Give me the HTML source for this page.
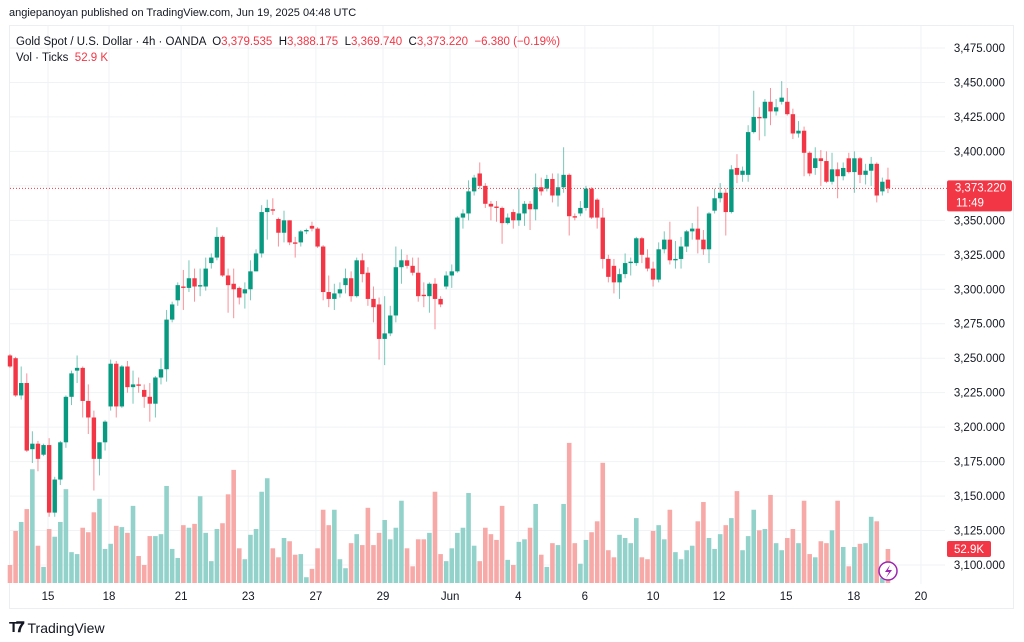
<!DOCTYPE html>
<html><head><meta charset="utf-8">
<style>
html,body{margin:0;padding:0;background:#fff;width:1024px;height:642px;overflow:hidden;font-family:"Liberation Sans",sans-serif;}
#hdr{position:absolute;left:9px;top:7px;font-size:11px;color:#131722;}
#frame{position:absolute;left:9px;top:25px;width:1005px;height:584px;border:1px solid #eceef2;box-sizing:border-box;}
#foot{position:absolute;left:9px;top:619px;font-size:14px;color:#131722;display:flex;align-items:center;gap:5px;}
svg{position:absolute;left:0;top:0;}
svg text{white-space:pre;}
</style></head><body>
<div id="hdr">angiepanoyan published on TradingView.com, Jun 19, 2025 04:48 UTC</div>
<div id="frame"></div>
<svg id="chart" width="1024" height="642"></svg>
<div id="foot"><span style="font-weight:900;font-size:15px;letter-spacing:-2px">T𝟕</span><span>TradingView</span></div>
<script>
const opens=[3252,3250,3223,3232,3184,3188,3180,3187,3138,3162,3189,3222,3241,3243,3219,3207,3177,3189,3215,3246,3215,3244,3229,3231,3227,3222,3217,3236,3242,3278,3292,3302,3301,3308,3302,3302,3319,3323,3338,3310,3304,3301,3297,3300,3313,3326,3356,3358,3351,3341,3350,3334,3334,3342,3346,3344,3331,3298,3293,3297,3303,3308,3295,3321,3312,3293,3289,3264,3268,3281,3316,3321,3317,3312,3296,3295,3304,3293,3302,3310,3313,3352,3355,3371,3384,3375,3362,3360,3359,3348,3356,3350,3355,3362,3358,3374,3373,3380,3368,3374,3383,3353,3355,3359,3373,3365,3352,3322,3317,3305,3311,3319,3319,3337,3323,3315,3307,3329,3336,3321,3322,3331,3342,3344,3336,3329,3357,3366,3370,3356,3388,3383,3383,3414,3425,3424,3436,3429,3436,3436,3427,3413,3415,3399,3388,3395,3393,3378,3387,3382,3395,3385,3395,3383,3386,3391,3371,3379.535];
const closes=[3244,3223,3232,3183,3188,3177,3187,3138,3162,3189,3222,3239,3243,3219,3207,3177,3189,3204,3246,3215,3244,3229,3231,3230,3222,3217,3236,3242,3278,3289,3303,3301,3308,3302,3303,3315,3323,3338,3310,3303,3300,3294,3300,3313,3326,3356,3359,3357,3341,3350,3334,3333,3342,3343,3344,3331,3298,3293,3297,3300,3308,3295,3321,3311,3293,3287,3264,3268,3281,3316,3321,3317,3312,3295,3295,3304,3293,3289,3310,3313,3352,3355,3371,3381,3375,3362,3360,3359,3348,3352,3350,3355,3362,3358,3374,3371,3380,3368,3374,3383,3353,3352,3359,3373,3352,3352,3322,3309,3305,3311,3319,3320,3337,3325,3315,3307,3329,3336,3321,3322,3331,3342,3344,3336,3329,3355,3366,3370,3356,3387,3383,3386,3414,3425,3424,3436,3429,3432,3439,3427,3413,3415,3399,3384,3395,3393,3378,3387,3382,3388,3385,3395,3383,3386,3391,3368,3378,3373.22];
const highs=[3253,3251,3244,3239,3197,3190,3188,3192,3164,3190,3223,3241,3252,3244,3231,3212,3189,3205,3249,3248,3245,3248,3241,3236,3231,3232,3237,3250,3285,3291,3305,3314,3321,3315,3315,3323,3326,3345,3339,3315,3315,3302,3305,3321,3329,3361,3365,3366,3352,3357,3350,3338,3343,3344,3349,3345,3332,3310,3304,3305,3315,3313,3323,3326,3316,3302,3294,3295,3288,3331,3329,3325,3323,3323,3305,3305,3308,3295,3313,3318,3353,3358,3379,3383,3392,3377,3364,3364,3360,3355,3358,3373,3364,3364,3384,3381,3383,3384,3384,3403,3384,3355,3364,3375,3374,3366,3359,3325,3322,3315,3326,3323,3338,3338,3329,3320,3334,3342,3349,3335,3338,3343,3348,3360,3343,3356,3373,3377,3373,3390,3398,3389,3419,3444,3432,3438,3446,3438,3451,3446,3431,3422,3418,3400,3403,3401,3400,3399,3392,3392,3399,3400,3396,3391,3396,3392,3381,3388.175];
const lows=[3243,3222,3220,3182,3174,3168,3179,3135,3135,3158,3185,3216,3232,3207,3195,3154,3165,3183,3212,3207,3214,3225,3217,3225,3214,3204,3207,3231,3233,3276,3288,3285,3298,3291,3295,3299,3315,3321,3309,3283,3279,3289,3286,3292,3313,3323,3336,3354,3331,3334,3332,3323,3331,3340,3342,3330,3292,3287,3285,3294,3297,3291,3294,3305,3288,3276,3249,3245,3266,3276,3304,3315,3310,3291,3287,3283,3271,3287,3300,3301,3312,3344,3350,3368,3373,3359,3350,3349,3333,3347,3344,3346,3346,3343,3350,3368,3371,3363,3360,3370,3339,3350,3353,3357,3351,3344,3315,3305,3297,3293,3308,3310,3317,3319,3313,3302,3305,3326,3318,3315,3315,3327,3336,3326,3325,3319,3355,3363,3339,3355,3377,3378,3378,3413,3408,3411,3419,3426,3434,3426,3409,3410,3382,3382,3383,3375,3377,3376,3366,3379,3384,3370,3377,3376,3375,3363,3368,3369.74];
const volumes=[28,81,95,115,177,58,25,84,72,95,146,48,45,86,79,110,131,53,61,89,87,78,120,42,28,73,73,76,151,53,39,90,86,92,135,78,34,84,93,138,176,54,37,75,84,142,163,54,40,70,65,44,45,9,22,54,114,90,114,37,23,62,76,59,117,59,78,98,68,86,128,54,26,68,68,78,142,45,34,54,78,86,140,58,34,86,76,67,120,36,28,64,68,86,123,44,25,62,59,123,218,62,30,67,79,96,187,51,40,75,70,62,101,40,37,81,90,68,114,48,37,51,58,96,126,70,53,76,90,101,143,51,73,114,82,84,137,62,51,70,84,62,128,45,40,65,62,82,128,56,26,56,61,62,103,96,8,52.9];
const priceTicks=[3100,3125,3150,3175,3200,3225,3250,3275,3300,3325,3350,3375,3400,3425,3450,3475];
const dateLabels=["15","18","21","23","27","29","Jun","4","6","10","12","15","18","20"];
const dateIdx=[6.8,17.7,30.6,42.6,54.7,66.7,78.7,90.9,102.8,115,126.8,138.8,150.9,162.9];

const svg=document.getElementById('chart');
const NS='http://www.w3.org/2000/svg';
const PL=10, PR=945;
const yP=p=>48+(3475-p)*1.3787;
const xI=i=>10+i*5.592;
const yV=v=>583-v/1.556;
function mk(tag,attrs,parent){const e=document.createElementNS(NS,tag);for(const k in attrs)e.setAttribute(k,attrs[k]);(parent||svg).appendChild(e);return e;}
const fmt=p=>p.toLocaleString('en-US',{minimumFractionDigits:3,maximumFractionDigits:3});

const grid=mk('g',{});


priceTicks.forEach(p=>{mk('line',{x1:PL,x2:PR,y1:yP(p),y2:yP(p),stroke:'#f0f2f5','stroke-width':1},grid);});
dateIdx.forEach(d=>{mk('line',{x1:xI(d),x2:xI(d),y1:26,y2:584,stroke:'#f0f2f5','stroke-width':1},grid);});

const vg=mk('g',{});


volumes.forEach((v,i)=>{
  const up=closes[i]>=opens[i];
  const r=mk('rect',{x:xI(i)-2.3,y:yV(v),width:4.6,height:583-yV(v),fill:up?'#92d2cb':'#f7a9a7'},vg);
  
  
});

const cg=mk('g',{});


opens.forEach((o,i)=>{
  const c=closes[i],up=c>=o,col=up?'#089981':'#f23645';
  const x=xI(i);
  const w=mk('line',{x1:x,x2:x,y1:yP(highs[i]),y2:yP(lows[i]),stroke:col,'stroke-opacity':0.55,'stroke-width':1},cg);
  
  
  const top=yP(Math.max(o,c)),bot=yP(Math.min(o,c));
  const b=mk('rect',{x:x-2.2,y:top,width:4.4,height:Math.max(1,bot-top),fill:col},cg);
  
  
});

const last=closes[closes.length-1];
const pl=mk('line',{x1:PL,x2:947,y1:yP(last),y2:yP(last),stroke:'#f23645','stroke-width':1,'stroke-dasharray':'1 2'});



const ax=mk('g',{'font-size':'11.5','fill':'#131722','text-anchor':'end'});


priceTicks.forEach(p=>{
  const t=mk('text',{x:1005,y:yP(p)+4},ax);t.textContent=fmt(p);
  
  
});
const pb=mk('rect',{x:947,y:yP(last)-8,width:65,height:31,rx:2,fill:'#f23645'});


const pt=mk('text',{x:1006,y:yP(last)+3,'font-size':'11.5',fill:'#fff','text-anchor':'end'});pt.textContent=fmt(last);


const ct=mk('text',{x:956,y:yP(last)+18,'font-size':'11.5',fill:'#fff'});ct.textContent='11:49';


const vb=mk('rect',{x:947,y:541,width:44,height:16,rx:2,fill:'#f23645'});


const vt=mk('text',{x:969,y:553,'font-size':'11.5',fill:'#fff','text-anchor':'middle'});vt.textContent=volumes[volumes.length-1]+'K';



const dx=mk('g',{'font-size':'11.5','fill':'#131722','text-anchor':'middle'});


dateLabels.forEach((d,k)=>{const t=mk('text',{x:xI(dateIdx[k]),y:600},dx);t.textContent=d;
  
  });

const lg=mk('text',{x:16,y:45,'font-size':'11.5',fill:'#131722'});


lg.innerHTML='Gold Spot / U.S. Dollar · 4h · OANDA  O<tspan fill="#f23645">3,379.535</tspan>  H<tspan fill="#f23645">3,388.175</tspan>  L<tspan fill="#f23645">3,369.740</tspan>  C<tspan fill="#f23645">3,373.220</tspan>  <tspan fill="#f23645">−6.380 (−0.19%)</tspan>';
const vl=mk('text',{x:16,y:61,'font-size':'11.5',fill:'#131722'});


vl.innerHTML='Vol · Ticks  <tspan fill="#f23645">52.9 K</tspan>';

const ic=mk('g',{});


mk('circle',{cx:888,cy:571,r:9,fill:'#fff',stroke:'#9c27b0','stroke-width':1.5},ic);
mk('path',{d:'M890 565 L885 572 L889 572 L886 578 L892 570 L888 570 Z',fill:'#9c27b0'},ic);
</script>
</body></html>
